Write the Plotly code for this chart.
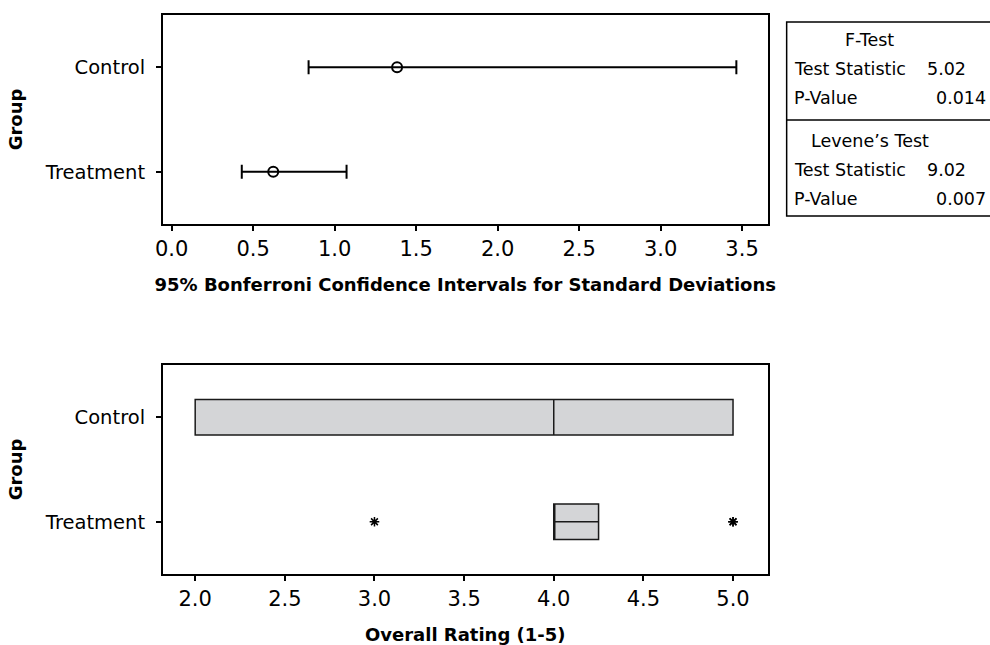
import plotly.graph_objects as go

# ---- data ----
groups = ["Control", "Treatment"]
sd_est = [1.383, 0.623]
ci_lower = [0.84, 0.43]
ci_upper = [3.465, 1.073]

box_q1 = [2.0, 4.0]
box_median = [4.0, 4.0]
box_q3 = [5.0, 4.25]
box_lowerfence = [2.0, 4.0]
box_upperfence = [5.0, 4.25]
outlier_group = ["Treatment", "Treatment", "Treatment"]
outlier_values = [3.0, 5.0, 5.0]

table_titles = ["F-Test", "Levene\u2019s Test"]
table_stat = ["5.02", "9.02"]
table_p = ["0.014", "0.007"]

x1_ticks = [0.0, 0.5, 1.0, 1.5, 2.0, 2.5, 3.0, 3.5]
x2_ticks = [2.0, 2.5, 3.0, 3.5, 4.0, 4.5, 5.0]

FONT = "DejaVu Sans"
W, H = 990, 645

def px(x):
    return x / W

def py(y):
    return 1 - y / H

fig = go.Figure()

# CI plot
fig.add_trace(go.Scatter(
    x=sd_est, y=groups, mode="markers",
    marker=dict(symbol="circle-open", size=10, color="black", line=dict(width=2, color="black")),
    error_x=dict(type="data", symmetric=False,
                 array=[u - e for u, e in zip(ci_upper, sd_est)],
                 arrayminus=[e - l for l, e in zip(ci_lower, sd_est)],
                 color="black", thickness=2, width=7),
    xaxis="x", yaxis="y", showlegend=False, hoverinfo="x+y"))

# Boxplot
fig.add_trace(go.Box(
    y=groups, q1=box_q1, median=box_median, q3=box_q3,
    lowerfence=box_lowerfence, upperfence=box_upperfence,
    orientation="h", fillcolor="#d4d5d7", line=dict(color="#1a1a1a", width=1.5),
    width=0.34, boxpoints=False, xaxis="x2", yaxis="y2", showlegend=False))

# middle line of the treatment box
fig.add_trace(go.Scatter(
    x=[box_q1[1], box_q3[1]], y=[groups[1], groups[1]], mode="lines",
    line=dict(color="#1a1a1a", width=1.5), xaxis="x2", yaxis="y2",
    showlegend=False, hoverinfo="skip"))

fig.add_trace(go.Scatter(
    x=outlier_values, y=outlier_group, mode="markers",
    marker=dict(symbol="asterisk-open", size=8, color="black", line=dict(width=1.5, color="black")),
    xaxis="x2", yaxis="y2", showlegend=False))

axis_common = dict(showline=True, mirror=True, linecolor="black", linewidth=1.5,
                   ticks="outside", tickcolor="black", tickwidth=1.5, ticklen=5,
                   showgrid=False, zeroline=False)

xtickfont = dict(family=FONT, size=21, color="black")
ytickfont = dict(family=FONT, size=19.5, color="black")
title_font = dict(family=FONT, size=18, color="black")

fig.update_layout(
    width=W, height=H,
    margin=dict(l=0, r=0, t=0, b=0),
    paper_bgcolor="white", plot_bgcolor="white",
    font=dict(family=FONT, color="black"),
    xaxis=dict(domain=[px(156), px(766)], range=[-0.055, 3.658], anchor="y",
               tickvals=x1_ticks, ticktext=[f"{v:.1f}" for v in x1_ticks], tickfont=xtickfont,
               title=dict(text="<b>95% Bonferroni Confidence Intervals for Standard Deviations</b>",
                          font=title_font, standoff=18),
               **axis_common),
    yaxis=dict(domain=[py(224), py(15)], range=[-0.5, 1.5], anchor="x",
               type="category", categoryorder="array", categoryarray=["Treatment", "Control"],
               ticklabelstandoff=7, tickfont=ytickfont,
               title=dict(text="<b>Group</b>", font=title_font, standoff=18),
               **axis_common),
    xaxis2=dict(domain=[px(156), px(766)], range=[1.819, 5.194], anchor="y2",
                tickvals=x2_ticks, ticktext=[f"{v:.1f}" for v in x2_ticks], tickfont=xtickfont,
                title=dict(text="<b>Overall Rating (1-5)</b>", font=title_font, standoff=18),
                **axis_common),
    yaxis2=dict(domain=[py(574), py(365)], range=[-0.5, 1.5], anchor="x2",
                type="category", categoryorder="array", categoryarray=["Treatment", "Control"],
                ticklabelstandoff=7, tickfont=ytickfont,
                title=dict(text="<b>Group</b>", font=title_font, standoff=18),
                **axis_common),
)

# Table box
shapes = [
    dict(type="rect", xref="paper", yref="paper", x0=px(785), x1=px(1000), y0=py(216), y1=py(22),
         line=dict(color="black", width=1.5), fillcolor="rgba(0,0,0,0)"),
    dict(type="line", xref="paper", yref="paper", x0=px(785), x1=px(1000), y0=py(120), y1=py(120),
         line=dict(color="black", width=1.5)),
]
fig.update_layout(shapes=shapes)

tfont = dict(family=FONT, size=17.5, color="black")
annots = []
block_tops = [40, 141]
for i in range(2):
    y0 = block_tops[i]
    annots.append(dict(text=table_titles[i], x=px(869), y=py(y0), xref="paper", yref="paper",
                       xanchor="center", yanchor="middle", showarrow=False, font=tfont))
    annots.append(dict(text="Test Statistic", x=px(790), y=py(y0 + 29), xref="paper", yref="paper",
                       xanchor="left", yanchor="middle", showarrow=False, font=tfont))
    annots.append(dict(text=table_stat[i], x=px(924), y=py(y0 + 29), xref="paper", yref="paper",
                       xanchor="left", yanchor="middle", showarrow=False, font=tfont))
    annots.append(dict(text="P-Value", x=px(790), y=py(y0 + 58), xref="paper", yref="paper",
                       xanchor="left", yanchor="middle", showarrow=False, font=tfont))
    annots.append(dict(text=table_p[i], x=px(988), y=py(y0 + 58), xref="paper", yref="paper",
                       xanchor="right", yanchor="middle", showarrow=False, font=tfont))
fig.update_layout(annotations=annots)

fig.write_html("out.html", config={"displayModeBar": False},
               post_script="document.body.style.margin='0';document.body.style.overflow='hidden';")
